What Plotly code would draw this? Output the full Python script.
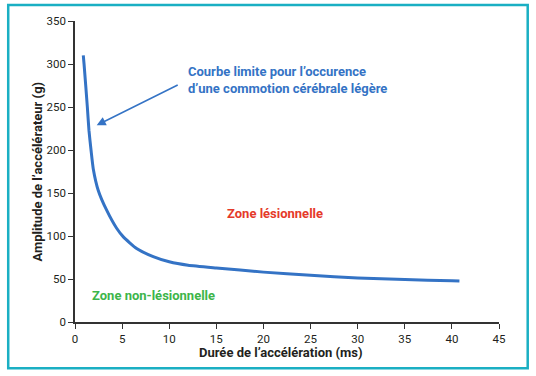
import plotly.graph_objects as go

duree_ms = [0.88, 0.96, 1.31, 1.48, 1.70, 1.94, 2.47, 3.36, 4.42, 5.13, 6.54, 8.3, 10.0, 12.0, 15.0, 20.0, 25.0, 30.0, 35.0, 40.0, 40.8]
amplitude_g = [310, 300, 250, 223, 200, 178, 153, 130, 109, 99, 85.5, 76, 70, 66, 62.8, 58, 54.3, 51.2, 49.3, 48, 47.7]

x_ticks = [0, 5, 10, 15, 20, 25, 30, 35, 40, 45]
y_ticks = [0, 50, 100, 150, 200, 250, 300, 350]

FONT = "Roboto"
BLUE = "#3473c5"
DARK = "#231f20"

fig = go.Figure()
fig.add_trace(go.Scatter(
    x=duree_ms, y=amplitude_g, mode="lines",
    line=dict(color=BLUE, width=3, shape="spline", smoothing=0.5),
    showlegend=False, hoverinfo="skip"))

axis_common = dict(
    showgrid=False, zeroline=False, showline=True, linecolor="#333333", linewidth=1.5,
    ticks="outside", ticklen=5, tickcolor="#333333", tickwidth=1.2, automargin=False,
    tickfont=dict(family=FONT, size=11.5, color=DARK))

fig.update_xaxes(range=[0, 45], tickvals=x_ticks, ticktext=[str(v) for v in x_ticks], **axis_common)
fig.update_yaxes(range=[0, 350], tickvals=y_ticks, ticktext=[str(v) for v in y_ticks], **axis_common)

annotations = [
    dict(x=2.30, y=228.7, ax=11.06, ay=276.4, xref="x", yref="y", axref="x", ayref="y",
         text="", showarrow=True, arrowhead=2, arrowsize=1.2, arrowwidth=1.5, arrowcolor=BLUE),
    dict(x=11.77, y=281, xref="x", yref="y", xanchor="left", yanchor="middle", align="left",
         text="<b>Courbe limite pour l’occurence<br>d’une commotion cérébrale légère</b>",
         showarrow=False, font=dict(family=FONT, size=13, color=BLUE)),
    dict(x=21.2, y=126.4, xref="x", yref="y", text="<b>Zone lésionnelle</b>", showarrow=False,
         font=dict(family=FONT, size=13, color="#e53a2a")),
    dict(x=8.32, y=31, xref="x", yref="y", text="<b>Zone non-lésionnelle</b>", showarrow=False,
         font=dict(family=FONT, size=13, color="#3db54a")),
    dict(x=0.4855, y=-0.1007, xref="paper", yref="paper", xanchor="center", yanchor="middle",
         text="<b>Durée de l’accélération (ms)</b>", showarrow=False,
         font=dict(family=FONT, size=13, color=DARK)),
    dict(x=-0.0896, y=0.5, xref="paper", yref="paper", xanchor="center", yanchor="middle",
         textangle=-90, text="<b>Amplitude de l’accélérateur (g)</b>", showarrow=False,
         font=dict(family=FONT, size=13, color=DARK)),
]

fig.update_layout(
    width=536, height=376,
    margin=dict(l=75, r=36.7, t=20.7, b=54.3),
    paper_bgcolor="white", plot_bgcolor="white",
    annotations=annotations,
    shapes=[dict(type="rect", xref="paper", yref="paper",
                 x0=-0.1575, x1=1.0677, y0=-0.1538, y1=1.0532,
                 line=dict(color="#1aafc3", width=2.5), layer="above")],
)

fig.write_html("out.html", config={"displayModeBar": False},
               post_script="document.body.style.margin='0';")
